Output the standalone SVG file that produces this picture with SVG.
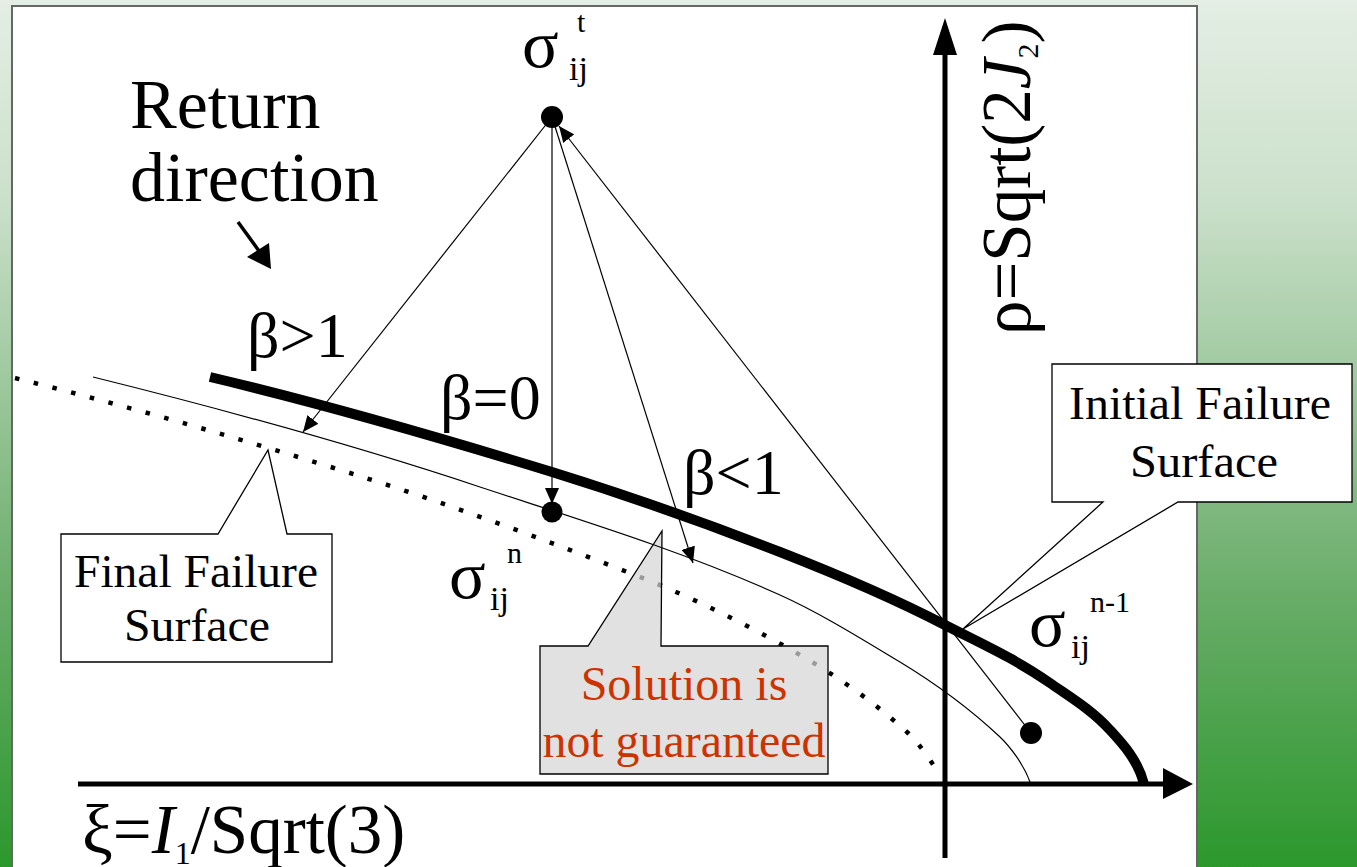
<svg xmlns="http://www.w3.org/2000/svg" width="1357" height="867" viewBox="0 0 1357 867">
<defs>
<linearGradient id="bg" x1="0" y1="0" x2="0" y2="1">
<stop offset="0" stop-color="#e4eee4"/>
<stop offset="0.23" stop-color="#cbe0cb"/>
<stop offset="0.69" stop-color="#68ac68"/>
<stop offset="1" stop-color="#2c982c"/>
</linearGradient>
<marker id="ah" markerUnits="userSpaceOnUse" markerWidth="18" markerHeight="14" refX="16" refY="7" orient="auto">
<path d="M0,0 L16,7 L0,14 z" fill="#000"/>
</marker>
<style>
text{font-family:"Liberation Serif","Times New Roman",serif;fill:#000}
.big{font-size:70px}
.beta{font-size:64px}
.sig{font-size:68px}
.sub{font-size:34px}
.sup{font-size:30px}
.box{font-size:46px;text-anchor:middle}
.red{fill:#cc3300}
.thin{fill:none;stroke:#000;stroke-width:1.2}
.call{fill:#fff;stroke:#000;stroke-width:1.3}
</style>
</defs>
<rect x="0" y="0" width="1357" height="867" fill="url(#bg)"/>
<rect id="panel" x="12" y="6" width="1185" height="880" fill="#fff" stroke="#666" stroke-width="2"/>

<g id="initial-callout">
<path class="call" d="M1052,364 H1352 V502 H1178 L963,629 L1103,502 H1052 Z"/>
<text class="box" x="1200" y="419" textLength="262" lengthAdjust="spacingAndGlyphs">Initial Failure</text>
<text class="box" x="1204" y="477" textLength="148" lengthAdjust="spacingAndGlyphs">Surface</text>
</g>

<g id="axes">
<line x1="78" y1="784" x2="1166" y2="784" stroke="#000" stroke-width="5"/>
<polygon points="1163,768 1193,784 1163,799" fill="#000"/>
<line x1="945" y1="858" x2="945" y2="50" stroke="#000" stroke-width="5"/>
<polygon points="933,55 945,18 957,55" fill="#000"/>
</g>

<g id="final-surface">
<path d="M15,378 C127,406 238,438 350,473 C443,502 537,537 630,573 C679,592 728,615 777,642 C821,666 864,693 908,733 C919,743 934,765 940,776" fill="none" stroke="#000" stroke-width="4.5" stroke-dasharray="4.5 14.8"/>
</g>

<g id="solution-callout">
<path d="M540,646 H588 L662,531 L661,646 H828 V774 H540 Z" fill="#d6d6d6" fill-opacity="0.72" stroke="#000" stroke-width="1.3"/>
<text class="box red" x="684" y="700" style="font-size:48px">Solution is</text>
<text class="box red" x="684" y="757" style="font-size:48px" textLength="283" lengthAdjust="spacingAndGlyphs">not guaranteed</text>
</g>

<g id="intermediate-surface">
<path class="thin" d="M93,377 C222,409 351,444 480,487 C580,520 680,550 780,595 C820,613 860,638 900,662 C933,682 967,706 1000,737 C1010,746.5 1024,765 1030,782"/>
</g>

<g id="initial-surface">
<path d="M210,377 C324,404 438,437 552,472 C628,495.6 704,522.4 780,552 C835,573.5 890,596.4 945,625 C980,643 1015,658.5 1050,683 C1070,697 1092,710 1110,730 C1122,743 1138,760 1144,784" fill="none" stroke="#000" stroke-width="10"/>
</g>

<g id="connectors">
<line class="thin" x1="552" y1="117" x2="303" y2="432" marker-end="url(#ah)"/>
<line class="thin" x1="552" y1="117" x2="552" y2="504" marker-end="url(#ah)"/>
<line class="thin" x1="552" y1="117" x2="693" y2="563" marker-end="url(#ah)"/>
<line class="thin" x1="1031" y1="733" x2="559" y2="126" marker-end="url(#ah)"/>
<line x1="238" y1="222" x2="259" y2="251" stroke="#000" stroke-width="3.5"/>
<polygon points="247,257 269,243 271,269" fill="#000"/>
</g>

<g id="points">
<circle cx="552" cy="117" r="11" fill="#000"/>
<circle cx="552" cy="512" r="10.5" fill="#000"/>
<circle cx="1031" cy="733" r="11" fill="#000"/>
</g>

<g id="final-callout">
<path class="call" d="M61,534 H218 L268,450 L287,534 H332 V662 H61 Z"/>
<text class="box" x="196" y="587" textLength="244" lengthAdjust="spacingAndGlyphs">Final Failure</text>
<text class="box" x="197" y="641" textLength="146" lengthAdjust="spacingAndGlyphs">Surface</text>
</g>

<g id="labels">
<text class="big" x="130" y="128">Return</text>
<text class="big" x="130" y="201">direction</text>
<text class="beta" x="247" y="357">β&gt;1</text>
<text class="beta" x="440" y="419">β=0</text>
<text class="beta" x="683" y="494">β&lt;1</text>
<text class="sig" x="522" y="67">σ</text>
<text class="sub" x="569" y="80">ij</text>
<text class="sup" x="577" y="32">t</text>
<text class="sig" x="449" y="598">σ</text>
<text class="sub" x="490" y="610">ij</text>
<text class="sup" x="507" y="563">n</text>
<text class="sig" x="1029" y="646">σ</text>
<text class="sub" x="1071" y="658">ij</text>
<text class="sup" x="1090" y="612">n-1</text>
<text style="font-size:69px" x="82" y="853">ξ=<tspan font-style="italic">I</tspan><tspan font-size="32" dy="11">1</tspan><tspan dy="-11">/Sqrt(3)</tspan></text>
<text style="font-size:69px" transform="translate(1030,335) rotate(-90)">ρ=Sqrt(2<tspan font-style="italic">J</tspan><tspan font-size="30" dy="8">2</tspan><tspan dy="-8">)</tspan></text>
</g>
</svg>
